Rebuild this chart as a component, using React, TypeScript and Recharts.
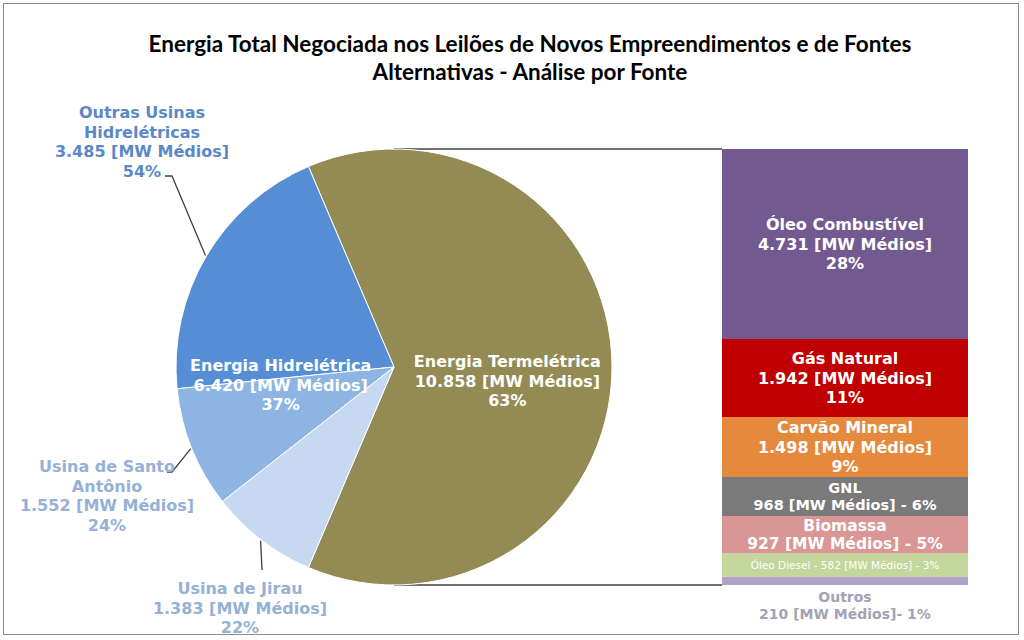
import { PieChart, Pie, Cell, BarChart, Bar, XAxis, YAxis } from 'recharts';

// Pie: thermal total + hydro plants
const pieNomes = ['Energia Termelétrica', 'Outras Usinas Hidrelétricas', 'Usina de Santo Antônio', 'Usina de Jirau'];
const pieValores = [10858, 3485, 1552, 1383];
const piePct = ['63%', '54%', '24%', '22%'];
const pieCores = ['#948A54', '#558ED5', '#8EB4E3', '#C6D9F1'];

// group totals (for the inner labels)
const grupoNomes = ['Energia Termelétrica', 'Energia Hidrelétrica'];
const grupoValores = [10858, 6420];
const grupoPct = ['63%', '37%'];

// Bar: breakdown of thermal sources (top to bottom)
const fontes = ['Óleo Combustível', 'Gás Natural', 'Carvão Mineral', 'GNL', 'Biomassa', 'Óleo Diesel', 'Outros'];
const fonteValores = [4731, 1942, 1498, 968, 927, 582, 210];
const fontePct = ['28%', '11%', '9%', '6%', '5%', '3%', '1%'];
const fonteCores = ['#72598F', '#C00000', '#E5893D', '#7A7A7A', '#D99694', '#C3D69B', '#B3A2C7'];

const PIE_CX = 394;
const PIE_CY = 367;
const PIE_R = 218;
const BAR_LEFT = 722;
const BAR_W = 246;
const RADIAN = Math.PI / 180;
const FONT = '"DejaVu Sans", Verdana, sans-serif';
const LABEL_SIZE = 16;

const fmt = (v: number) => v.toString().replace(/\B(?=(\d{3})+(?!\d))/g, '.');

const pieTotal = pieValores.reduce((a, b) => a + b, 0);
const thermalAngle = (pieValores[0] / pieTotal) * 360;
const START = -thermalAngle / 2;
const END = 360 - thermalAngle / 2;

const pieData = pieNomes.map((name, i) => ({ name, value: pieValores[i] }));
const grupoData = grupoNomes.map((name, i) => ({ name, value: grupoValores[i] }));
const barTotal = fonteValores.reduce((a, b) => a + b, 0);
const barRow: Record<string, number | string> = { name: 'termo' };
fontes.forEach((f, i) => { barRow['f' + i] = fonteValores[i]; });

// where each outside label sits and how its leader line bends
const outerLayout: Record<number, { x: number; y: number; lines: string[]; color: string; path: number[][] }> = {
  1: { x: 142, y: 118, lines: ['Outras Usinas', 'Hidrelétricas'], color: '#5A88C8', path: [[172, 176], [165, 176]] },
  2: { x: 107, y: 472, lines: ['Usina de Santo', 'Antônio'], color: '#95B1D6', path: [[172, 472], [167, 472]] },
  3: { x: 240, y: 594, lines: ['Usina de Jirau'], color: '#95B1D6', path: [[262, 570]] },
};

const renderOuterLabel = (props: any) => {
  const { cx, cy, midAngle, outerRadius, index } = props;
  const lay = outerLayout[index];
  if (!lay) return null;
  const ex = cx + (outerRadius + 1) * Math.cos(-midAngle * RADIAN);
  const ey = cy + (outerRadius + 1) * Math.sin(-midAngle * RADIAN);
  const d = `M${ex},${ey} ` + lay.path.map(p => `L${p[0]},${p[1]}`).join(' ');
  const lines = [...lay.lines, `${fmt(pieValores[index])} [MW Médios]`, piePct[index]];
  return (
    <g>
      <path d={d} stroke="#404040" strokeWidth={1.3} fill="none" />
      <text x={lay.x} y={lay.y} textAnchor="middle" fill={lay.color} fontFamily={FONT} fontWeight="bold" fontSize={LABEL_SIZE}>
        {lines.map((l, k) => (
          <tspan key={k} x={lay.x} dy={k === 0 ? 0 : 19.6}>{l}</tspan>
        ))}
      </text>
    </g>
  );
};

const renderGroupLabel = (props: any) => {
  const { cx, cy, midAngle, outerRadius, index } = props;
  const r = outerRadius * 0.52;
  const x = cx + r * Math.cos(-midAngle * RADIAN);
  const y = cy + r * Math.sin(-midAngle * RADIAN) + (index === 0 ? 0 : 4);
  const lines = [grupoNomes[index], `${fmt(grupoValores[index])} [MW Médios]`, grupoPct[index]];
  return (
    <text x={x} y={y} textAnchor="middle" fill="#fff" fontFamily={FONT} fontWeight="bold" fontSize={LABEL_SIZE}>
      {lines.map((l, k) => (
        <tspan key={k} x={x} dy={k === 0 ? 0 : 19.6}>{l}</tspan>
      ))}
    </text>
  );
};

const makeBarLabel = (i: number) => (props: any) => {
  const { x, y, width, height } = props;
  const mx = x + width / 2;
  const my = y + height / 2;
  const val = `${fmt(fonteValores[i])} [MW Médios]`;
  let lines: string[];
  let size = LABEL_SIZE;
  let color = '#fff';
  let top: number;
  let lh = 19.6;
  if (i <= 2) {
    lines = [fontes[i], val, fontePct[i]];
  } else if (i <= 4) {
    lines = [fontes[i], `${val} - ${fontePct[i]}`];
    size = i === 3 ? 14.5 : 15.5;
    lh = i === 3 ? 17 : 18;
  } else if (i === 5) {
    lines = [`${fontes[i]} - ${fonteValores[i]} [MW Médios] - ${fontePct[i]}`];
    size = 10.5;
  } else {
    lines = [fontes[i], `${val}- ${fontePct[i]}`];
    size = 14;
    lh = 17;
    color = '#A3A2B5';
  }
  if (i === 6) {
    top = y + height + 17;
  } else {
    top = my - ((lines.length - 1) * lh) / 2 + size * 0.36;
  }
  return (
    <text x={mx} y={top} textAnchor="middle" fill={color} fontFamily={FONT} fontWeight={i === 5 ? 'normal' : 'bold'} fontSize={size}>
      {lines.map((l, k) => (
        <tspan key={k} x={mx} dy={k === 0 ? 0 : lh}>{l}</tspan>
      ))}
    </text>
  );
};

export default function App() {
  const barTop = PIE_CY - PIE_R;
  const barH = PIE_R * 2;
  return (
    <div style={{ position: 'relative', width: 1024, height: 640, background: '#fff', overflow: 'hidden' }}>
      <style>{'body{margin:0}'}</style>
      <div style={{ position: 'absolute', left: 3, top: 3, width: 1016, height: 632, border: '1px solid #8C8C8C', boxSizing: 'border-box' }} />
      <div style={{ position: 'absolute', left: 0, width: 1060, top: 30, textAlign: 'center', fontFamily: 'Lato, "Open Sans", sans-serif', fontWeight: 'bold', fontSize: 22.5, lineHeight: '28px', color: '#000' }}>
        Energia Total Negociada nos Leilões de Novos Empreendimentos e de Fontes<br />Alternativas - Análise por Fonte
      </div>
      <svg width={1024} height={640} style={{ position: 'absolute', left: 0, top: 0 }}>
        <line x1={PIE_CX} y1={barTop} x2={BAR_LEFT} y2={barTop} stroke="#404040" strokeWidth={1.5} />
        <line x1={PIE_CX} y1={barTop + barH} x2={BAR_LEFT} y2={barTop + barH} stroke="#404040" strokeWidth={1.5} />
      </svg>
      <div style={{ position: 'absolute', left: 0, top: 0 }}>
        <PieChart width={1024} height={640} margin={{ top: 0, right: 0, bottom: 0, left: 0 }}>
          <Pie
            data={pieData}
            dataKey="value"
            cx={PIE_CX}
            cy={PIE_CY}
            outerRadius={PIE_R}
            startAngle={START}
            endAngle={END}
            stroke="#fff"
            strokeWidth={1}
            label={renderOuterLabel}
            labelLine={false}
            isAnimationActive={false}
          >
            {pieData.map((d, i) => (
              <Cell key={d.name} fill={pieCores[i]} />
            ))}
          </Pie>
          <Pie
            data={grupoData}
            dataKey="value"
            cx={PIE_CX}
            cy={PIE_CY}
            outerRadius={PIE_R}
            startAngle={START}
            endAngle={END}
            fill="none"
            stroke="none"
            label={renderGroupLabel}
            labelLine={false}
            isAnimationActive={false}
          />
        </PieChart>
      </div>
      <div style={{ position: 'absolute', left: BAR_LEFT, top: barTop }}>
        <BarChart width={BAR_W} height={barH + 40} data={[barRow]} margin={{ top: 0, right: 0, bottom: 40, left: 0 }} barCategoryGap={0}>
          <XAxis dataKey="name" hide />
          <YAxis hide domain={[0, barTotal]} />
          {fontes.map((f, i) => fontes.length - 1 - i).map(i => (
            <Bar key={fontes[i]} dataKey={'f' + i} stackId="a" fill={fonteCores[i]} label={makeBarLabel(i)} isAnimationActive={false} />
          ))}
        </BarChart>
      </div>
    </div>
  );
}
